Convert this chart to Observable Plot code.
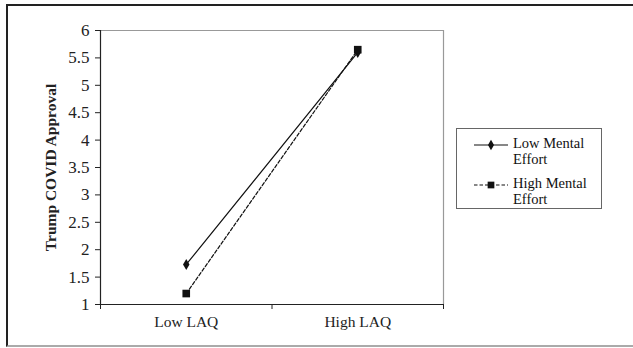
<!DOCTYPE html>
<html>
<head>
<meta charset="utf-8">
<script src="https://cdn.jsdelivr.net/npm/d3@7"></script>
<script src="https://cdn.jsdelivr.net/npm/@observablehq/plot@0.6"></script>
<style>
  html, body { margin: 0; padding: 0; background: #fff; }
  #wrap { position: relative; width: 633px; height: 348px; overflow: hidden; font-family: "Liberation Serif", "Times New Roman", serif; }
  #outer { position: absolute; left: 6px; top: 4px; width: 660px; height: 339px; border-top: 2px solid #222; border-left: 2px solid #222; border-bottom: 2px solid #aaa; }
  #legend { position: absolute; left: 456px; top: 128px; width: 146px; height: 81px; border: 1px solid #666; box-sizing: border-box; background: #fff; }
  .item { position: absolute; left: 17px; display: flex; align-items: flex-start; }
  .item svg { display: block; margin-top: 4px; }
  .item span { font-size: 14.5px; line-height: 16px; color: #111; margin-left: 5px; }
</style>
</head>
<body>
<div id="wrap">
  <div id="chart"></div>
  <div id="outer"></div>
  <div id="legend"></div>
</div>
<script>
const categories = ["Low LAQ", "High LAQ"];
const seriesNames = ["Low Mental Effort", "High Mental Effort"];
const lowEffort = [1.73, 5.6];
const highEffort = [1.2, 5.65];
const yTicks = [1, 1.5, 2, 2.5, 3, 3.5, 4, 4.5, 5, 5.5, 6];
const legendLabels = [["Low Mental", "Effort"], ["High Mental", "Effort"]];

const series = [lowEffort, highEffort];
const data = series.flatMap((vals, s) => vals.map((v, i) => ({series: seriesNames[s], pos: i + 0.5, cat: categories[i], value: v})));
const boundaries = d3.range(0, categories.length + 1);
const centers = categories.map((c, i) => i + 0.5);
const dashes = [null, "3.5,2"];
const symbols = ["diamond", "square"];
const sizes = [3.4, 4.3];

const chart = Plot.plot({
  width: 633,
  height: 348,
  marginLeft: 100,
  marginTop: 30,
  marginBottom: 44,
  marginRight: 190,
  style: {fontFamily: "Liberation Serif, Times New Roman, serif", fontSize: "15px", color: "#222", background: "#fff"},
  x: {type: "linear", domain: [0, categories.length]},
  y: {domain: [1, 6]},
  marks: [
    Plot.ruleY([6], {stroke: "#999", strokeWidth: 1.2}),
    Plot.ruleX([categories.length], {stroke: "#999", strokeWidth: 1.2}),
    Plot.axisY({ticks: yTicks, tickSize: 5, tickPadding: 6, tickFormat: d => String(d), label: "Trump COVID Approval", labelAnchor: "center", labelArrow: "none", labelOffset: 56, stroke: "#222"}),
    Plot.axisX({ticks: boundaries, tickSize: 5, tickFormat: () => "", label: null, stroke: "#222"}),
    Plot.axisX({ticks: centers, tickSize: 0, tickPadding: 11, tickFormat: (d) => categories[Math.floor(d)], label: null}),
    Plot.ruleX([0], {stroke: "#222", strokeWidth: 1.2}),
    Plot.ruleY([1], {stroke: "#222", strokeWidth: 1.2}),
    ...seriesNames.map((name, s) => Plot.line(data.filter(d => d.series === name), {x: "pos", y: "value", stroke: "#111", strokeWidth: 1.2, strokeDasharray: dashes[s]})),
    ...seriesNames.map((name, s) => Plot.dot(data.filter(d => d.series === name), {x: "pos", y: "value", symbol: symbols[s], r: sizes[s], fill: "#111", stroke: "none"}))
  ]
});
const svgSel = d3.select(chart);
svgSel.selectAll("g[aria-label='y-axis tick label']").attr("font-size", 17).selectAll("text").attr("font-size", 17);
svgSel.selectAll("g[aria-label='x-axis tick label']").attr("font-size", 15.5).selectAll("text").attr("font-size", 15.5);
svgSel.selectAll("g[aria-label='y-axis label']").attr("font-size", 15.5).selectAll("text").attr("font-weight", "bold").attr("font-size", 15.5);
document.getElementById("chart").appendChild(chart);

// legend
const legend = d3.select("#legend");
const tops = [6, 46];
seriesNames.forEach((name, s) => {
  const item = legend.append("div").attr("class", "item").style("top", tops[s] + "px");
  const svg = item.append("svg").attr("width", 34).attr("height", 12);
  svg.append("line").attr("x1", 0).attr("x2", 34).attr("y1", 6).attr("y2", 6).attr("stroke", "#111").attr("stroke-width", 1.2).attr("stroke-dasharray", dashes[s]);
  const sym = d3.symbol(s === 0 ? d3.symbolDiamond : d3.symbolSquare, s === 0 ? 32 : 45)();
  svg.append("path").attr("d", sym).attr("transform", "translate(17,6)").attr("fill", "#111");
  const span = item.append("span");
  span.html(legendLabels[s].join("<br>"));
});
</script>
</body>
</html>
